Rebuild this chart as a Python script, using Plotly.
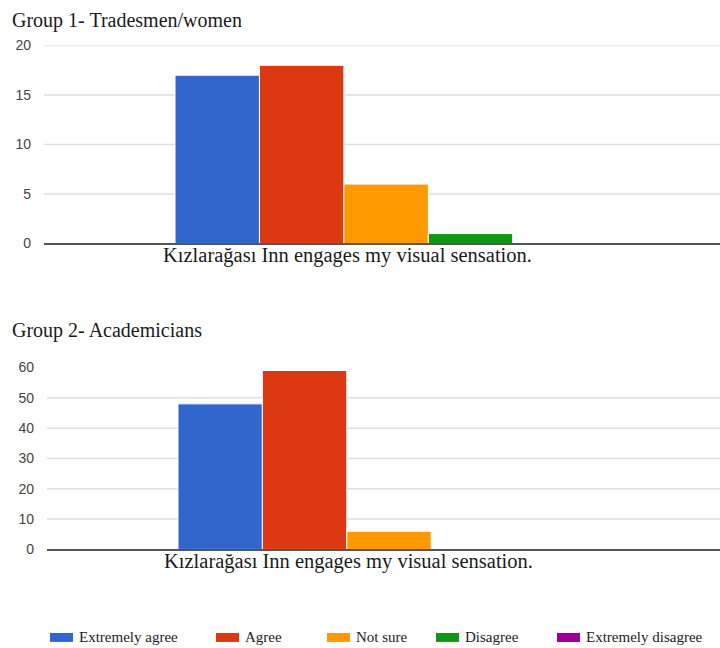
import plotly.graph_objects as go
from plotly.subplots import make_subplots

# Survey responses for a single statement, split by respondent group
statement = "Kızlarağası Inn engages my visual sensation."
responses = ["Extremely agree", "Agree", "Not sure", "Disagree", "Extremely disagree"]
colors = ["#3366cc", "#dc3912", "#ff9900", "#109618", "#990099"]

group1_title = "Group 1- Tradesmen/women"
group1_counts = [17, 18, 6, 1, 0]
group1_ticks = [0, 5, 10, 15, 20]
group1_grid = [5, 10, 15, 20]

group2_title = "Group 2- Academicians"
group2_counts = [48, 59, 6, 0, 0]
group2_ticks = [0, 10, 20, 30, 40, 50, 60]
group2_grid = [10, 20, 30, 40, 50]

# page layout: the figure sits below the body's default margin and is
# compressed vertically when the page is captured
W, H = 720, 656
TOP = 7.5
VSCALE = 0.9757
ML = 44

# left edge (page px) of each legend entry, laid out in one row along the bottom
legend_left = [50, 216, 327, 436, 557]
legend_row = 637

fig = make_subplots(rows=2, cols=1)

for i, (name, col) in enumerate(zip(responses, colors)):
    fig.add_trace(go.Bar(x=[statement], y=[group1_counts[i]], name=name,
                         marker=dict(color=col, line=dict(color="white", width=1)),
                         showlegend=False), row=1, col=1)
    fig.add_trace(go.Bar(x=[statement], y=[group2_counts[i]], name=name,
                         marker=dict(color=col, line=dict(color="white", width=1)),
                         showlegend=False), row=2, col=1)

serif = "Liberation Serif, Times New Roman, serif"
sans = "Liberation Sans, Arial, sans-serif"


def py(px):
    # pixel row on the page -> paper fraction
    return (H - (px - TOP) / VSCALE) / H


def pxx(px):
    # pixel column on the page -> paper fraction
    return (px - ML) / (W - ML)


axis_common = dict(showgrid=False, zeroline=False,
                   tickfont=dict(family=sans, size=14, color="#444"), ticks="",
                   ticklabelstandoff=12, showline=False)

fig.update_layout(
    width=W, height=H,
    margin=dict(l=ML, r=0, t=0, b=0),
    paper_bgcolor="white", plot_bgcolor="white",
    barmode="group", bargap=0.383, bargroupgap=0,
    showlegend=False,
    xaxis=dict(domain=[0, 1], range=[-0.5, 0.488], showticklabels=False,
               showline=True, linecolor="#555", linewidth=1.5, showgrid=False),
    xaxis2=dict(domain=[pxx(47), 1], range=[-0.5, 0.484], showticklabels=False,
                showline=True, linecolor="#555", linewidth=1.5, showgrid=False),
    yaxis=dict(domain=[py(243), py(45)], range=[0, 20], tickvals=group1_ticks, **axis_common),
    yaxis2=dict(domain=[py(549), py(367)], range=[0, 60], tickvals=group2_ticks, **axis_common),
)

# horizontal grid lines, drawn beneath the bars
shapes = []
for v in group1_grid:
    shapes.append(dict(type="line", xref="x domain", yref="y", x0=0, x1=1, y0=v, y1=v,
                       line=dict(color="#dedede", width=1.5), layer="below"))
for v in group2_grid:
    shapes.append(dict(type="line", xref="x2 domain", yref="y2", x0=0, x1=1, y0=v, y1=v,
                       line=dict(color="#dedede", width=1.5), layer="below"))

title_font = dict(family=serif, size=20, color="#1a1a1a")
label_font = dict(family=serif, size=20.5, color="#1a1a1a")
annotations = [
    dict(text=group1_title, x=pxx(10), y=py(20), xref="paper", yref="paper",
         xanchor="left", yanchor="middle", showarrow=False, font=title_font),
    dict(text=group2_title, x=pxx(10), y=py(330), xref="paper", yref="paper",
         xanchor="left", yanchor="middle", showarrow=False, font=title_font),
    dict(text=statement, x=pxx(347), y=py(255), xref="paper", yref="paper",
         xanchor="center", yanchor="middle", showarrow=False, font=label_font),
    dict(text=statement, x=pxx(348), y=py(561), xref="paper", yref="paper",
         xanchor="center", yanchor="middle", showarrow=False, font=label_font),
]

# legend: colour swatch followed by the response label
for name, col, left in zip(responses, colors, legend_left):
    shapes.append(dict(type="rect", xref="paper", yref="paper",
                       x0=pxx(left), x1=pxx(left + 23),
                       y0=py(legend_row + 4.5), y1=py(legend_row - 4.5),
                       fillcolor=col, line=dict(width=0)))
    annotations.append(dict(text=name, x=pxx(left + 27), y=py(legend_row),
                            xref="paper", yref="paper", xanchor="left", yanchor="middle",
                            showarrow=False,
                            font=dict(family=serif, size=15, color="#222")))

fig.update_layout(shapes=shapes, annotations=annotations)

fig.write_html("out.html")
